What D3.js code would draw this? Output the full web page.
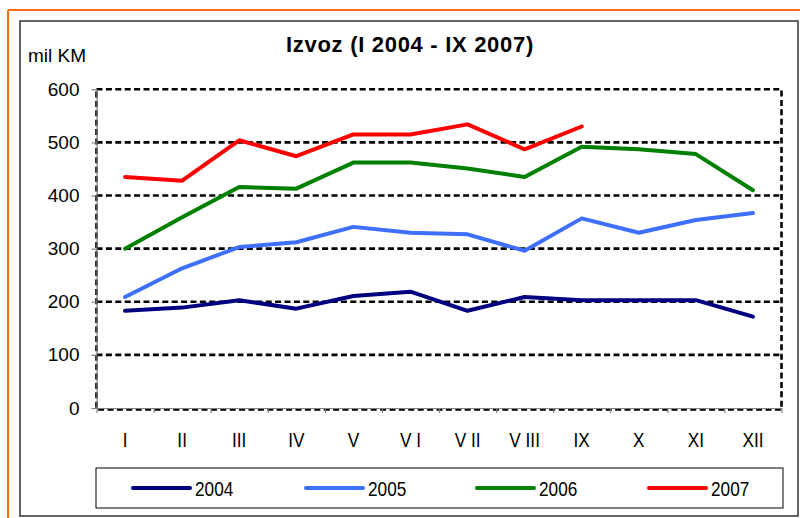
<!DOCTYPE html>
<html>
<head>
<meta charset="utf-8">
<script src="https://cdn.jsdelivr.net/npm/d3@7/dist/d3.min.js"></script>
<style>
  html, body { margin: 0; padding: 0; background: #fff; }
  svg { display: block; }
</style>
</head>
<body>
<svg id="chart" width="800" height="518"></svg>
<script>
const months = ["I", "II", "III", "IV", "V", "V I", "V II", "V III", "IX", "X", "XI", "XII"];
const yTicks = [0, 100, 200, 300, 400, 500, 600];
const years = ["2004", "2005", "2006", "2007"];
const colors = ["#000080", "#3F6FFF", "#008000", "#FF0000"];
const v2004 = [183, 189, 203, 187, 211, 219, 183, 209, 203, 203, 203, 172];
const v2005 = [209, 263, 303, 312, 341, 330, 327, 296, 357, 330, 354, 367];
const v2006 = [300, 359, 416, 413, 462, 462, 451, 435, 492, 487, 478, 410];
const v2007 = [435, 428, 504, 474, 515, 515, 534, 487, 530];
const seriesValues = [v2004, v2005, v2006, v2007];

const svg = d3.select("#chart");
const regular = "'Liberation Sans', Arial, sans-serif";
const squeeze = 0.82;

// outer orange frame (top and left)
svg.append("line").attr("x1", 8).attr("y1", 10).attr("x2", 800).attr("y2", 10)
  .attr("stroke", "#FF6A13").attr("stroke-width", 2);
svg.append("line").attr("x1", 8).attr("y1", 10).attr("x2", 8).attr("y2", 518)
  .attr("stroke", "#FF6A13").attr("stroke-width", 2);

// chart frame
svg.append("rect").attr("x", 20).attr("y", 21).attr("width", 778).attr("height", 495)
  .attr("fill", "#fff").attr("stroke", "#333").attr("stroke-width", 1.5);

const L = 96.5, R = 781.5, T = 89.3, B = 408;
const x = d3.scaleBand().domain(months).range([L, R]);
const xEdge = d3.scaleLinear().domain([0, 12]).range([L, R]);
const y = d3.scaleLinear().domain([0, 600]).range([B, T]);

// gridlines
svg.append("g").selectAll("line").data(yTicks.filter(d => d > 0 && d < 600)).join("line")
  .attr("x1", L).attr("x2", R).attr("y1", d => y(d)).attr("y2", d => y(d))
  .attr("stroke", "#000").attr("stroke-width", 2.6).attr("stroke-dasharray", "6,3.4");

// plot area dashed border
svg.append("rect").attr("x", L).attr("y", T).attr("width", R - L).attr("height", B + 1.5 - T)
  .attr("fill", "none").attr("stroke", "#000").attr("stroke-width", 2.6)
  .attr("stroke-dasharray", "6,3.4");

// axes
const yAxis = svg.append("g").attr("transform", `translate(${L},0)`)
  .call(d3.axisLeft(y).tickValues(yTicks).tickSize(5).tickSizeOuter(0).tickPadding(12));
yAxis.selectAll("path, line").attr("stroke", "#808080").attr("stroke-width", 1.2);
yAxis.selectAll("text").attr("font-family", regular).attr("font-size", 19).attr("fill", "#000");

const xAxis = svg.append("g").attr("transform", `translate(0,${B})`)
  .call(d3.axisBottom(xEdge).tickValues(d3.range(13)).tickFormat("").tickSize(5).tickSizeOuter(0));
xAxis.selectAll("path, line").attr("stroke", "#808080").attr("stroke-width", 1.2);

svg.append("g").selectAll("text").data(months).join("text")
  .attr("transform", d => `translate(${x(d) + x.bandwidth() / 2},446.5) scale(${squeeze},1)`)
  .attr("text-anchor", "middle").attr("font-family", regular).attr("font-size", 21)
  .attr("fill", "#000").text(d => d);

// lines
const line = d3.line().x((d, i) => x(months[i]) + x.bandwidth() / 2).y(d => y(d));
svg.append("g").selectAll("path").data(seriesValues).join("path")
  .attr("d", d => line(d)).attr("fill", "none")
  .attr("stroke", (d, i) => colors[i]).attr("stroke-width", 4)
  .attr("stroke-linejoin", "round").attr("stroke-linecap", "round");

// title and unit
svg.append("text").attr("x", 410).attr("y", 52).attr("text-anchor", "middle")
  .attr("font-family", regular).attr("font-weight", "bold").attr("font-size", 22)
  .attr("letter-spacing", 0.7).attr("fill", "#000").text("Izvoz (I 2004 - IX 2007)");
svg.append("text").attr("x", 28).attr("y", 62)
  .attr("font-family", regular).attr("font-size", 19).attr("fill", "#000").text("mil KM");

// legend
svg.append("rect").attr("x", 96).attr("y", 468).attr("width", 687).attr("height", 40)
  .attr("fill", "#fff").attr("stroke", "#000").attr("stroke-width", 1);
const legX = [133, 306, 477, 649];
const lg = svg.append("g").selectAll("g").data(years).join("g")
  .attr("transform", (d, i) => `translate(${legX[i]},488)`);
lg.append("line").attr("x1", 0).attr("x2", 57).attr("y1", 0).attr("y2", 0)
  .attr("stroke", (d, i) => colors[i]).attr("stroke-width", 4).attr("stroke-linecap", "round");
lg.append("text").attr("transform", `translate(62,7.5) scale(${squeeze},1)`)
  .attr("font-family", regular).attr("font-size", 21).attr("fill", "#000").text(d => d);
</script>
</body>
</html>
